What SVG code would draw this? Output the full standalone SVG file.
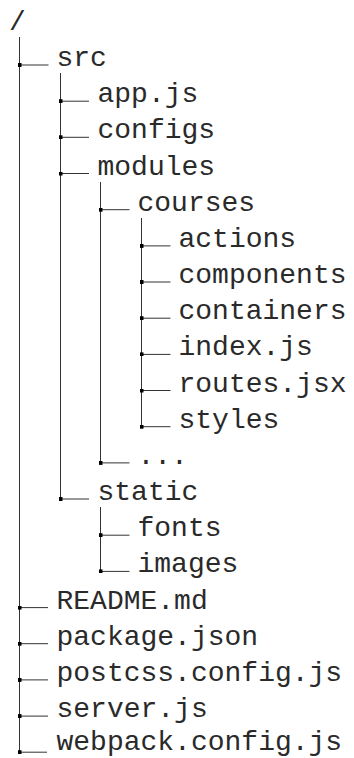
<svg xmlns="http://www.w3.org/2000/svg" width="354" height="758" viewBox="0 0 354 758">
<style>
  text { font-family: "Liberation Mono", "Courier New", monospace; font-size: 28px; fill: #2a2a2a; }
  .v { stroke: #333; stroke-width: 1; fill: none; }
  .h { stroke: #333; stroke-width: 1; fill: none; marker-start: url(#sq); }
</style>
<defs>
  <marker id="sq" markerWidth="4" markerHeight="4" refX="2" refY="2" markerUnits="userSpaceOnUse" orient="0">
    <rect x="0" y="0" width="4" height="4" fill="#000"/>
  </marker>
</defs>
<rect width="354" height="758" fill="#fff"/>
<g id="connectors">
  <path class="v" d="M19.5 37 V752.2"/>
  <path class="v" d="M60.5 73 V499"/>
  <path class="v" d="M100.5 182 V462.9"/>
  <path class="v" d="M141.5 218 V426.7"/>
  <path class="v" d="M100.5 507 V571.4"/>
  <path class="h" d="M19.5 65 H48.5"/>
  <path class="h" d="M60.5 101.2 H89"/>
  <path class="h" d="M60.5 137.3 H89"/>
  <path class="h" d="M60.5 173.5 H89"/>
  <path class="h" d="M100.5 209.7 H129.5"/>
  <path class="h" d="M141.5 245.9 H170.5"/>
  <path class="h" d="M141.5 282 H170.5"/>
  <path class="h" d="M141.5 318.2 H170.5"/>
  <path class="h" d="M141.5 354.4 H170.5"/>
  <path class="h" d="M141.5 390.5 H170.5"/>
  <path class="h" d="M141.5 426.7 H170.5"/>
  <path class="h" d="M100.5 462.9 H129.5"/>
  <path class="h" d="M60.5 499 H89"/>
  <path class="h" d="M100.5 535.2 H129.5"/>
  <path class="h" d="M100.5 571.4 H129.5"/>
  <path class="h" d="M19.5 607.6 H48"/>
  <path class="h" d="M19.5 643.7 H48"/>
  <path class="h" d="M19.5 679.9 H48"/>
  <path class="h" d="M19.5 716.1 H48"/>
  <path class="h" d="M19.5 752.2 H47"/>
</g>
<g id="root"><text x="9" y="30">/</text></g>
<g id="src"><text x="56.5" y="66">src</text></g>
<g id="app-js"><text x="97.5" y="102.2">app.js</text></g>
<g id="configs"><text x="97.5" y="138.3">configs</text></g>
<g id="modules"><text x="97.5" y="174.5">modules</text></g>
<g id="courses"><text x="137.5" y="210.7">courses</text></g>
<g id="actions"><text x="178.5" y="246.9">actions</text></g>
<g id="components"><text x="178.5" y="283">components</text></g>
<g id="containers"><text x="178.5" y="319.2">containers</text></g>
<g id="index-js"><text x="178.5" y="355.4">index.js</text></g>
<g id="routes-jsx"><text x="178.5" y="391.5">routes.jsx</text></g>
<g id="styles"><text x="178.5" y="427.7">styles</text></g>
<g id="more"><text x="137.5" y="463.9">...</text></g>
<g id="static"><text x="97.5" y="500">static</text></g>
<g id="fonts"><text x="137.5" y="536.2">fonts</text></g>
<g id="images"><text x="137.5" y="572.4">images</text></g>
<g id="readme"><text x="56.5" y="608.6">README.md</text></g>
<g id="package-json"><text x="56.5" y="644.7">package.json</text></g>
<g id="postcss-config"><text x="56.5" y="680.9">postcss.config.js</text></g>
<g id="server-js"><text x="56.5" y="717.1">server.js</text></g>
<g id="webpack-config"><text x="56.5" y="750">webpack.config.js</text></g>
</svg>
